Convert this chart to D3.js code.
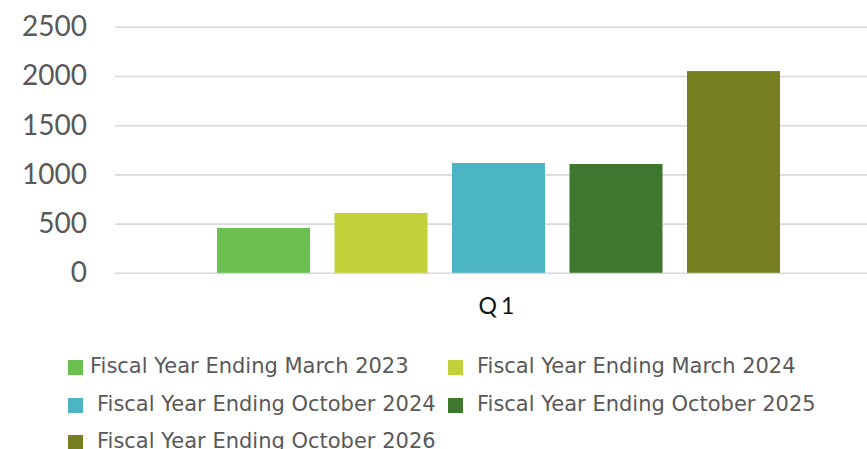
<!DOCTYPE html>
<html>
<head>
<meta charset="utf-8">
<script src="https://cdn.jsdelivr.net/npm/d3@7"></script>
<style>
  body { margin: 0; background: #fff; }
  svg { display: block; }
  .axis text { font-family: Lato, "Open Sans", sans-serif; font-size: 28px; fill: #595959; }
  .axis line { stroke: #d9d9d9; stroke-width: 1.6px; }
  .legend-text { font-family: "DejaVu Sans", Verdana, sans-serif; font-size: 21px; fill: #595959; }
  .cat-label { font-family: Lato, "Open Sans", sans-serif; font-size: 23px; fill: #111; letter-spacing: 4px; }
</style>
</head>
<body>
<div id="chart"></div>
<script>

var categories = ["Q1"]
var seriesNames = [
  "Fiscal Year Ending March 2023",
  "Fiscal Year Ending March 2024",
  "Fiscal Year Ending October 2024",
  "Fiscal Year Ending October 2025",
  "Fiscal Year Ending October 2026"
]
var seriesValues = [455, 608, 1116, 1106, 2050]
var seriesColors = ['#6bbf4e', '#c2d03a', '#4bb5c4', '#3e772d', '#767f20']
var yTicks = [0, 500, 1000, 1500, 2000, 2500]

var width = 867, height = 449;
var plot = { left: 115, right: 882, top: 26.8, bottom: 272.8 };

var svg = d3.select("#chart").append("svg")
  .attr("width", width)
  .attr("height", height);

var yScale = d3.scaleLinear()
  .domain([0, 2500])
  .range([plot.bottom, plot.top]);

var x0 = d3.scaleBand()
  .domain(categories)
  .range([plot.left, plot.right])
  .padding(0);

var x1 = d3.scaleBand()
  .domain(seriesNames)
  .range([0, x0.bandwidth()])
  .paddingInner(0.2085)
  .paddingOuter(0.868);

var yAxis = d3.axisLeft(yScale)
  .tickValues(yTicks)
  .tickFormat(d3.format("d"))
  .tickSize(-(width - plot.left))
  .tickPadding(28);

svg.append("g")
  .attr("class", "y axis")
  .attr("transform", "translate(" + plot.left + ",0)")
  .call(yAxis)
  .call(function(g) { g.select(".domain").remove(); });

// bars, one group per category
var groups = svg.selectAll(".cat")
  .data(categories)
  .enter().append("g")
  .attr("class", "cat")
  .attr("transform", function(d) { return "translate(" + x0(d) + ",0)"; });

groups.selectAll("rect")
  .data(function(d, ci) {
    return seriesNames.map(function(s, i) { return { name: s, value: seriesValues[i], color: seriesColors[i] }; });
  })
  .enter().append("rect")
  .attr("x", function(d) { return x1(d.name); })
  .attr("width", x1.bandwidth())
  .attr("y", function(d) { return yScale(d.value); })
  .attr("height", function(d) { return yScale(0) - yScale(d.value); })
  .style("fill", function(d) { return d.color; });

// category label
svg.selectAll(".cat-label")
  .data(categories)
  .enter().append("text")
  .attr("class", "cat-label")
  .attr("x", function(d) { return x0(d) + x0.bandwidth() / 2; })
  .attr("y", 314)
  .style("text-anchor", "middle")
  .text(function(d) { return d; });

// legend, two columns
var legendPos = [
  { sx: 68, tx: 90, y: 360 },
  { sx: 448, tx: 477, y: 360 },
  { sx: 68, tx: 97, y: 398 },
  { sx: 448, tx: 477, y: 398 },
  { sx: 68, tx: 97, y: 435 }
]

var legend = svg.selectAll(".legend-item")
  .data(seriesNames)
  .enter().append("g")
  .attr("class", "legend-item");

legend.append("rect")
  .attr("x", function(d, i) { return legendPos[i].sx; })
  .attr("y", function(d, i) { return legendPos[i].y; })
  .attr("width", 15)
  .attr("height", 15)
  .style("fill", function(d, i) { return seriesColors[i]; });

legend.append("text")
  .attr("class", "legend-text")
  .attr("x", function(d, i) { return legendPos[i].tx; })
  .attr("y", function(d, i) { return legendPos[i].y + 12.5; })
  .text(function(d) { return d; });

</script>
</body>
</html>
